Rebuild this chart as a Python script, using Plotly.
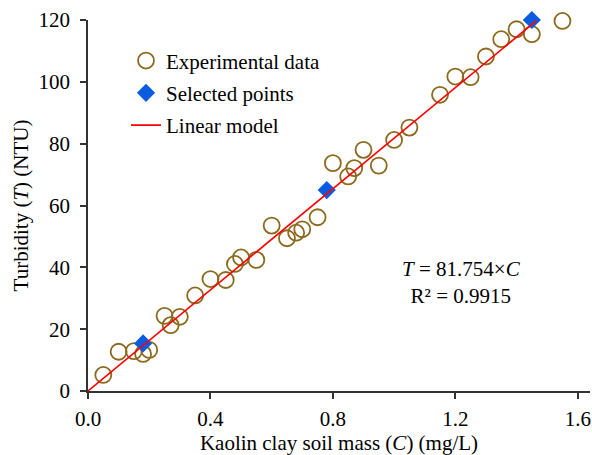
import plotly.graph_objects as go

# Experimental data
exp_C = [0.05, 0.10, 0.15, 0.18, 0.20, 0.25, 0.27, 0.30, 0.35, 0.40, 0.45, 0.48, 0.50,
         0.55, 0.60, 0.65, 0.68, 0.70, 0.75, 0.80, 0.85, 0.87, 0.90, 0.95, 1.00, 1.05,
         1.15, 1.20, 1.25, 1.30, 1.35, 1.40, 1.45, 1.55]
exp_T = [5.2, 12.7, 12.9, 12.0, 13.3, 24.3, 21.3, 24.0, 30.9, 36.2, 35.9, 41.1, 43.2,
         42.4, 53.5, 49.4, 51.2, 52.3, 56.2, 73.7, 69.4, 72.1, 78.0, 72.9, 81.2, 85.2,
         95.8, 101.7, 101.5, 108.2, 113.8, 117.0, 115.4, 119.7]

# Selected points
sel_C = [0.18, 0.78, 1.45]
sel_T = [15.4, 65.0, 120.0]

# Linear model T = 81.754 x C
line_C = [0.0, 1.465]
line_T = [0.0, 119.8]

x_ticks = [0.0, 0.4, 0.8, 1.2, 1.6]
x_ticklabels = ["0.0", "0.4", "0.8", "1.2", "1.6"]
y_ticks = [0, 20, 40, 60, 80, 100, 120]

FONT = "Liberation Serif, Times New Roman, serif"
FS = 21

fig = go.Figure()
fig.add_trace(go.Scatter(
    x=exp_C, y=exp_T, mode="markers", name="Experimental data", legendgroup="a",
    marker=dict(symbol="circle-open", size=16, color="#8B6A1E", line=dict(width=1.8, color="#8B6A1E")),
    cliponaxis=False))
fig.add_trace(go.Scatter(
    x=sel_C, y=sel_T, mode="markers", name="Selected points", legendgroup="b",
    marker=dict(symbol="diamond", size=14, color="#0A5BE0"),
    cliponaxis=False))
fig.add_trace(go.Scatter(
    x=line_C, y=line_T, mode="lines", name="Linear model", legendgroup="c",
    line=dict(color="#FF0000", width=1.6)))

fig.add_annotation(
    x=1.22, y=35, xref="x", yref="y", showarrow=False, align="center",
    text="<i>T</i> = 81.754×<i>C</i><br>R² = 0.9915",
    font=dict(family=FONT, size=FS, color="#000"))

fig.update_layout(
    width=592, height=455,
    margin=dict(l=88, r=2, t=20, b=64),
    paper_bgcolor="white", plot_bgcolor="white",
    font=dict(family=FONT, size=FS, color="#000"),
    legend=dict(x=0.0757, y=0.945, xanchor="left", yanchor="top",
                traceorder="grouped", tracegroupgap=2,
                bgcolor="rgba(0,0,0,0)", font=dict(family=FONT, size=FS)),
    xaxis=dict(range=[0, 1.64], tickvals=x_ticks, ticktext=x_ticklabels, automargin=False,
               showgrid=False, zeroline=False, showline=True, linecolor="#333", linewidth=1.5,
               ticks="outside", ticklen=6, tickcolor="#333", tickwidth=1.5,
               ticklabelstandoff=2,
               tickfont=dict(family=FONT, size=FS),
               title=dict(text="Kaolin clay soil mass (<i>C</i>) (mg/L)", standoff=8,
                          font=dict(family=FONT, size=FS))),
    yaxis=dict(range=[0, 120], tickvals=y_ticks, automargin=False,
               showgrid=False, zeroline=False, showline=True, linecolor="#333", linewidth=1.5,
               ticks="outside", ticklen=6, tickcolor="#333", tickwidth=1.5,
               ticklabelstandoff=6,
               tickfont=dict(family=FONT, size=FS),
               title=dict(text="Turbidity (<i>T</i>) (NTU)", standoff=4,
                          font=dict(family=FONT, size=FS))),
)

fig.write_html("out.html",
               config={"displayModeBar": False},
               post_script="document.body.style.margin='0';document.body.style.overflow='hidden';")
